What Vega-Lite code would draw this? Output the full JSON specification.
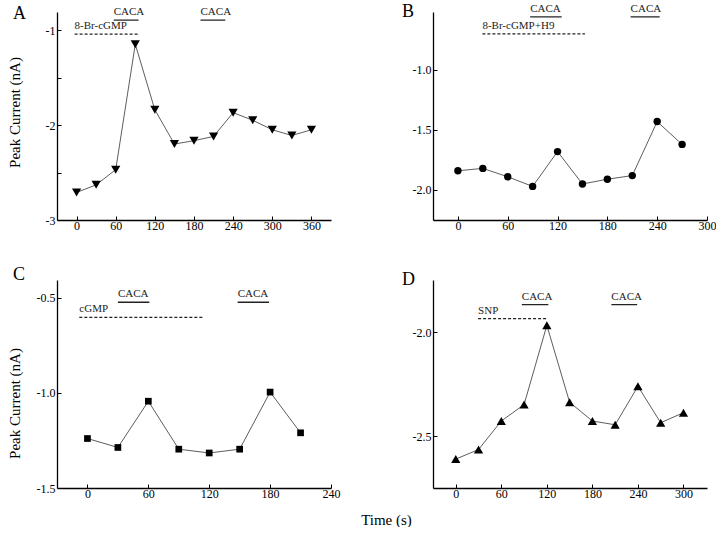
{
  "$schema": "https://vega.github.io/schema/vega-lite/v6.json",
  "padding": {"left": 7, "top": 2, "right": 0, "bottom": 0},
  "bounds": "flush",
  "columns": 2,
  "spacing": {"row": 60, "column": 102},
  "config": {
    "font": "Liberation Serif",
    "view": {"stroke": null},
    "axis": {"domainColor": "black", "domainWidth": 1.3, "tickColor": "black", "tickSize": -4, "tickWidth": 1,
      "labelFont": "Liberation Serif", "labelFontSize": 12, "labelColor": "black", "grid": false,
      "labelFlush": false, "labelOverlap": false, "titleFont": "Liberation Serif", "titleFontSize": 15,
      "titleFontWeight": "normal", "titleColor": "black"},
    "axisX": {"labelPadding": 4},
    "axisY": {"labelPadding": 6},
    "title": {"font": "Liberation Serif", "fontSize": 18, "fontWeight": "normal", "color": "black", "anchor": "start", "frame": "group", "baseline": "alphabetic"}
  },
  "concat": [
      {
        "width": 274, "height": 208,
        "title": {"text": "A", "dx": -44, "offset": -17},
        "data": {"values": [
          {"t": 0, "current": -2.71}, {"t": 30, "current": -2.63}, {"t": 60, "current": -2.47},
          {"t": 90, "current": -1.15}, {"t": 120, "current": -1.84}, {"t": 150, "current": -2.2},
          {"t": 180, "current": -2.165}, {"t": 210, "current": -2.12}, {"t": 240, "current": -1.87},
          {"t": 270, "current": -1.95}, {"t": 300, "current": -2.05}, {"t": 330, "current": -2.11},
          {"t": 360, "current": -2.05}
        ]},
        "encoding": {
          "x": {"field": "t", "type": "quantitative", "scale": {"domain": [-30, 390], "nice": false, "zero": false},
            "axis": {"title": null, "values": [0, 60, 120, 180, 240, 300, 360]}},
          "y": {"field": "current", "type": "quantitative", "scale": {"domain": [-3, -0.81], "nice": false, "zero": false},
            "axis": {"title": "Peak Current (nA)", "titleX": -37.5, "titleY": 100, "titleBaseline": "alphabetic", "titleAngle": -90,
              "values": [-3, -2.5, -2, -1.5, -1],
              "labelExpr": "datum.value % 1 == 0 ? replace(format(datum.value, 'd'), '\u2212', '-') : ''"}}
        },
        "layer": [
          {"mark": {"type": "line", "color": "#333", "strokeWidth": 0.8}},
          {"mark": {"type": "point", "shape": "triangle-down", "filled": true, "color": "black", "opacity": 1, "size": 85}},
          {"data": {"values": [
            {"t": -3, "t2": 95, "current": -1.042, "label": "8-Br-cGMP", "kind": "dashed"},
            {"t": 57, "t2": 95, "current": -0.895, "label": "CACA", "kind": "solid"},
            {"t": 190, "t2": 228, "current": -0.895, "label": "CACA", "kind": "solid"}
          ]},
          "layer": [
            {"mark": {"type": "rule", "color": "#222", "strokeWidth": 1.3},
             "encoding": {"x2": {"field": "t2"},
               "strokeDash": {"field": "kind", "type": "nominal", "scale": {"domain": ["solid", "dashed"], "range": [[1, 0], [3, 2]]}, "legend": null}}},
            {"mark": {"type": "text", "align": "left", "baseline": "bottom", "dy": -3, "color": "#222"},
             "encoding": {"text": {"field": "label"},
               "fontSize": {"condition": {"test": "datum.label == 'CACA'", "value": 10}, "value": 9.5}}}
          ]}
        ]
      },
      {
        "width": 274, "height": 208,
        "title": {"text": "B", "dx": -31, "offset": -18},
        "data": {"values": [
          {"t": 0, "current": -1.84}, {"t": 30, "current": -1.82}, {"t": 60, "current": -1.89},
          {"t": 90, "current": -1.97}, {"t": 120, "current": -1.68}, {"t": 150, "current": -1.95},
          {"t": 180, "current": -1.91}, {"t": 210, "current": -1.88}, {"t": 240, "current": -1.43},
          {"t": 270, "current": -1.62}
        ]},
        "encoding": {
          "x": {"field": "t", "type": "quantitative", "scale": {"domain": [-30, 300], "nice": false, "zero": false},
            "axis": {"title": null, "values": [0, 60, 120, 180, 240, 300]}},
          "y": {"field": "current", "type": "quantitative", "scale": {"domain": [-2.25, -0.517], "nice": false, "zero": false},
            "axis": {"title": null, "values": [-2, -1.5, -1],
              "labelExpr": "replace(format(datum.value, '.1f'), '\u2212', '-')"}}
        },
        "layer": [
          {"mark": {"type": "line", "color": "#333", "strokeWidth": 0.8}},
          {"mark": {"type": "point", "shape": "circle", "filled": true, "color": "black", "opacity": 1, "size": 55}},
          {"data": {"values": [
            {"t": 29.5, "t2": 153, "current": -0.70, "label": "8-Br-cGMP+H9", "kind": "dashed"},
            {"t": 87, "t2": 125, "current": -0.558, "label": "CACA", "kind": "solid"},
            {"t": 208, "t2": 243, "current": -0.558, "label": "CACA", "kind": "solid"}
          ]},
          "layer": [
            {"mark": {"type": "rule", "color": "#222", "strokeWidth": 1.3},
             "encoding": {"x2": {"field": "t2"},
               "strokeDash": {"field": "kind", "type": "nominal", "scale": {"domain": ["solid", "dashed"], "range": [[1, 0], [3, 2]]}, "legend": null}}},
            {"mark": {"type": "text", "align": "left", "baseline": "bottom", "dy": -3, "color": "#222"},
             "encoding": {"text": {"field": "label"},
               "fontSize": {"condition": {"test": "datum.label == 'CACA'", "value": 10}, "value": 9}}}
          ]}
        ]
      },
      {
        "width": 274, "height": 208,
        "title": {"text": "C", "dx": -44, "offset": -4},
        "data": {"values": [
          {"t": 0, "current": -1.24}, {"t": 30, "current": -1.287}, {"t": 60, "current": -1.044},
          {"t": 90, "current": -1.296}, {"t": 120, "current": -1.316}, {"t": 150, "current": -1.296},
          {"t": 180, "current": -0.996}, {"t": 210, "current": -1.21}
        ]},
        "encoding": {
          "x": {"field": "t", "type": "quantitative", "scale": {"domain": [-30, 240], "nice": false, "zero": false},
            "axis": {"title": "Time (s)", "titleX": 329, "titleY": 36, "titleBaseline": "alphabetic", "titleAlign": "center",
              "values": [0, 60, 120, 180, 240]}},
          "y": {"field": "current", "type": "quantitative", "scale": {"domain": [-1.5, -0.407], "nice": false, "zero": false},
            "axis": {"title": "Peak Current (nA)", "titleX": -37.5, "titleY": 123, "titleBaseline": "alphabetic", "titleAngle": -90,
              "values": [-1.5, -1, -0.5],
              "labelExpr": "replace(format(datum.value, '.1f'), '\u2212', '-')"}}
        },
        "layer": [
          {"mark": {"type": "line", "color": "#333", "strokeWidth": 0.8}},
          {"mark": {"type": "point", "shape": "square", "filled": true, "color": "black", "opacity": 1, "size": 45}},
          {"data": {"values": [
            {"t": -8, "t2": 114, "current": -0.603, "label": "cGMP", "kind": "dashed"},
            {"t": 30, "t2": 61, "current": -0.524, "label": "CACA", "kind": "solid"},
            {"t": 148, "t2": 179, "current": -0.524, "label": "CACA", "kind": "solid"}
          ]},
          "layer": [
            {"mark": {"type": "rule", "color": "#222", "strokeWidth": 1.3},
             "encoding": {"x2": {"field": "t2"},
               "strokeDash": {"field": "kind", "type": "nominal", "scale": {"domain": ["solid", "dashed"], "range": [[1, 0], [3, 2]]}, "legend": null}}},
            {"mark": {"type": "text", "align": "left", "baseline": "bottom", "dy": -3, "color": "#222"},
             "encoding": {"text": {"field": "label"},
               "fontSize": {"condition": {"test": "datum.label == 'CACA'", "value": 10}, "value": 9.5}}}
          ]}
        ]
      },
      {
        "width": 274, "height": 208,
        "title": {"text": "D", "dx": -31, "offset": -9},
        "data": {"values": [
          {"t": 0, "current": -2.611}, {"t": 30, "current": -2.565}, {"t": 60, "current": -2.428},
          {"t": 90, "current": -2.349}, {"t": 120, "current": -1.968}, {"t": 150, "current": -2.338},
          {"t": 180, "current": -2.428}, {"t": 210, "current": -2.446}, {"t": 240, "current": -2.261},
          {"t": 270, "current": -2.436}, {"t": 300, "current": -2.388}
        ]},
        "encoding": {
          "x": {"field": "t", "type": "quantitative", "scale": {"domain": [-30, 331], "nice": false, "zero": false},
            "axis": {"title": null, "values": [0, 60, 120, 180, 240, 300]}},
          "y": {"field": "current", "type": "quantitative", "scale": {"domain": [-2.75, -1.75], "nice": false, "zero": false},
            "axis": {"title": null, "values": [-2.5, -2],
              "labelExpr": "replace(format(datum.value, '.1f'), '\u2212', '-')"}}
        },
        "layer": [
          {"mark": {"type": "line", "color": "#333", "strokeWidth": 0.8}},
          {"mark": {"type": "point", "shape": "triangle-up", "filled": true, "color": "black", "opacity": 1, "size": 85}},
          {"data": {"values": [
            {"t": 29.4, "t2": 119.6, "current": -1.936, "label": "SNP", "kind": "dashed"},
            {"t": 87, "t2": 122, "current": -1.868, "label": "CACA", "kind": "solid"},
            {"t": 205, "t2": 239, "current": -1.868, "label": "CACA", "kind": "solid"}
          ]},
          "layer": [
            {"mark": {"type": "rule", "color": "#222", "strokeWidth": 1.3},
             "encoding": {"x2": {"field": "t2"},
               "strokeDash": {"field": "kind", "type": "nominal", "scale": {"domain": ["solid", "dashed"], "range": [[1, 0], [3, 2]]}, "legend": null}}},
            {"mark": {"type": "text", "align": "left", "baseline": "bottom", "dy": -3, "color": "#222"},
             "encoding": {"text": {"field": "label"},
               "fontSize": {"condition": {"test": "datum.label == 'CACA'", "value": 10}, "value": 9.5}}}
          ]}
        ]
      }
  ]
}
